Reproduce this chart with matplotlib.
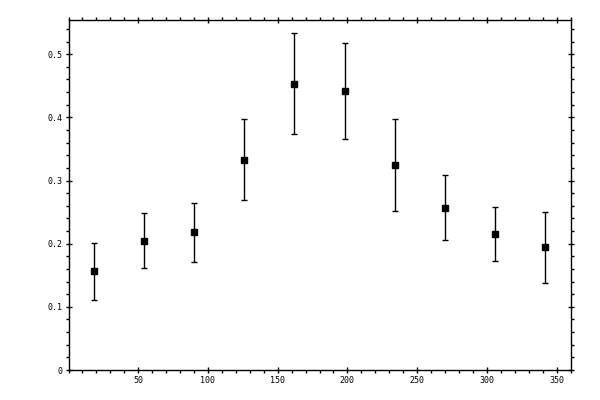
import matplotlib
matplotlib.use("Agg")
import matplotlib.pyplot as plt
from matplotlib.ticker import MultipleLocator, FixedLocator

# -----------------------------
# Data
# -----------------------------
x_vals = [18, 54, 90, 126, 162, 198, 234, 270, 306, 342]
y_vals = [0.156, 0.205, 0.218, 0.333, 0.453, 0.442, 0.324, 0.257, 0.215, 0.194]
y_err = [0.045, 0.043, 0.047, 0.064, 0.080, 0.076, 0.073, 0.051, 0.043, 0.056]

x_ticks = [50, 100, 150, 200, 250, 300, 350]
y_ticks = [0, 0.1, 0.2, 0.3, 0.4, 0.5]
y_labels = ["0", "0.1", "0.2", "0.3", "0.4", "0.5"]

# -----------------------------
# Figure
# -----------------------------
fig = plt.figure(figsize=(6, 4), dpi=100)
ax = fig.add_axes([68.5 / 600, 1 - 370 / 400, (570.5 - 68.5) / 600, (370 - 19.5) / 400])

ax.errorbar(x_vals, y_vals, yerr=y_err, fmt="s", color="black",
            markersize=5, elinewidth=1, capsize=2, capthick=1)

ax.set_xlim(0, 360)
ax.set_ylim(0, 0.555)

ax.xaxis.set_major_locator(FixedLocator(x_ticks))
ax.xaxis.set_minor_locator(MultipleLocator(10))
ax.set_yticks(y_ticks)
ax.set_yticklabels(y_labels)
ax.yaxis.set_minor_locator(MultipleLocator(0.02))

for lbl in ax.get_xticklabels() + ax.get_yticklabels():
    lbl.set_family("DejaVu Sans Mono")
    lbl.set_fontsize(6)

ax.tick_params(which="major", direction="inout", length=5, width=1,
               top=True, right=True, pad=2)
ax.tick_params(which="minor", direction="out", length=2.5, width=1,
               top=True, right=True)

for sp in ax.spines.values():
    sp.set_linewidth(1)

fig.savefig("out.png", dpi=100)
